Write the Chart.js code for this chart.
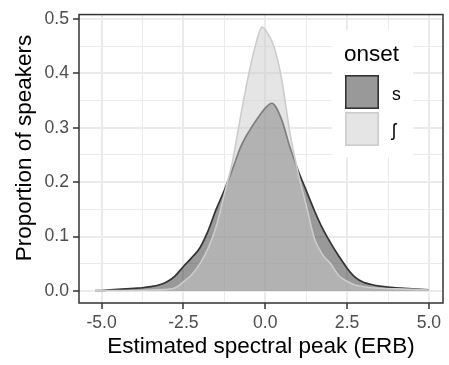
<!DOCTYPE html>
<html>
<head>
<meta charset="utf-8">
<script src="https://cdn.jsdelivr.net/npm/chart.js@4.4.0/dist/chart.umd.min.js"></script>
<style>
  html, body { margin: 0; padding: 0; background: #fff; }
  canvas { display: block; }
</style>
</head>
<body>
<canvas id="grafico" width="449" height="365"></canvas>
<script>
// densidades
const xS = [-5.2, -5.0, -4.75, -4.5, -4.25, -4.0, -3.75, -3.5, -3.25, -3.0, -2.75, -2.5, -2.25, -2.0, -1.75, -1.5, -1.25, -1.0, -0.75, -0.5, -0.25, 0.0, 0.2, 0.5, 0.75, 1.0, 1.25, 1.5, 1.75, 2.0, 2.25, 2.5, 2.75, 3.0, 3.25, 3.5, 3.75, 4.0, 4.5, 5.0];
const densS = [0.001, 0.001, 0.002, 0.003, 0.004, 0.005, 0.006, 0.008, 0.011, 0.017, 0.028, 0.045, 0.061, 0.079, 0.110, 0.150, 0.185, 0.224, 0.265, 0.293, 0.316, 0.336, 0.345, 0.315, 0.265, 0.222, 0.185, 0.148, 0.115, 0.088, 0.064, 0.042, 0.025, 0.016, 0.012, 0.009, 0.007, 0.006, 0.004, 0.002];

const xSh = [-5.2, -5.0, -4.5, -4.0, -3.5, -3.0, -2.75, -2.5, -2.25, -2.0, -1.75, -1.5, -1.25, -1.0, -0.75, -0.5, -0.25, -0.1, 0.0, 0.25, 0.5, 0.75, 1.0, 1.25, 1.5, 1.75, 2.0, 2.25, 2.5, 2.75, 3.0, 3.5, 4.0, 4.5, 5.0];
const densSh = [0.001, 0.001, 0.001, 0.001, 0.002, 0.003, 0.006, 0.017, 0.030, 0.050, 0.078, 0.118, 0.178, 0.238, 0.322, 0.400, 0.462, 0.485, 0.480, 0.452, 0.390, 0.292, 0.218, 0.158, 0.097, 0.067, 0.050, 0.028, 0.018, 0.011, 0.008, 0.005, 0.004, 0.003, 0.002];

const onsetLabels = ['s', 'ʃ'];

const xMajor = [-5, -2.5, 0, 2.5, 5];
const xMinor = [-3.75, -1.25, 1.25, 3.75];
const yMajor = [0, 0.1, 0.2, 0.3, 0.4, 0.5];
const yMinor = [0.05, 0.15, 0.25, 0.35, 0.45];

const fonte = '"Liberation Sans", Arial, sans-serif';
Chart.defaults.font.family = fonte;

const toPoints = (xs, ys) => xs.map((x, i) => ({ x: x, y: ys[i] }));
const isMajor = (lista, v) => lista.some(m => Math.abs(m - v) < 1e-9);
const buildTicks = (maj, min) => [...maj, ...min].sort((a, b) => a - b).map(v => ({ value: v }));

const gridOpts = (maj) => ({
  color: '#ebebeb',
  lineWidth: ctx => (ctx.tick && isMajor(maj, ctx.tick.value)) ? 2 : 1,
  drawTicks: true,
  tickLength: 6,
  tickWidth: 1.5,
  tickColor: ctx => (ctx.tick && isMajor(maj, ctx.tick.value)) ? '#333333' : 'rgba(0,0,0,0)'
});

// moldura do painel, título do eixo y e legenda
const painelPlugin = {
  id: 'painel',
  afterDraw(chart) {
    const { ctx, chartArea: a } = chart;
    ctx.save();
    ctx.strokeStyle = '#333333';
    ctx.lineWidth = 1.5;
    ctx.strokeRect(a.left, a.top, a.right - a.left, a.bottom - a.top);

    // título do eixo y
    ctx.save();
    ctx.translate(31, 148);
    ctx.rotate(-Math.PI / 2);
    ctx.fillStyle = '#000000';
    ctx.font = '22.5px ' + fonte;
    ctx.textAlign = 'center';
    ctx.textBaseline = 'alphabetic';
    ctx.fillText('Proportion of speakers', 0, 0);
    ctx.restore();

    ctx.fillStyle = '#ffffff';
    ctx.fillRect(332, 30, 81, 127);

    ctx.fillStyle = '#000000';
    ctx.font = '22.5px ' + fonte;
    ctx.textBaseline = 'alphabetic';
    ctx.textAlign = 'left';
    ctx.fillText('onset', 344, 61);

    const chaves = [
      { y: 75, fill: 'rgba(51,51,51,0.5)', stroke: '#333333', label: onsetLabels[0], base: 100 },
      { y: 112, fill: 'rgba(204,204,204,0.5)', stroke: '#cccccc', label: onsetLabels[1], base: 136 }
    ];
    ctx.font = '17.6px ' + fonte;
    chaves.forEach(k => {
      ctx.fillStyle = k.fill;
      ctx.fillRect(345, k.y, 34, 34);
      ctx.strokeStyle = k.stroke;
      ctx.lineWidth = 1.6;
      ctx.strokeRect(345.8, k.y + 0.8, 32.4, 32.4);
      ctx.fillStyle = '#000000';
      ctx.fillText(k.label, 392, k.base);
    });
    ctx.restore();
  }
};

new Chart(document.getElementById('grafico'), {
  type: 'line',
  data: {
    datasets: [
      {
        label: onsetLabels[1],
        data: toPoints(xSh, densSh),
        borderColor: '#cccccc',
        backgroundColor: 'rgba(204,204,204,0.5)',
        borderWidth: 1.6,
        fill: 'origin',
        pointRadius: 0,
        cubicInterpolationMode: 'monotone',
        order: 0
      },
      {
        label: onsetLabels[0],
        data: toPoints(xS, densS),
        borderColor: '#333333',
        backgroundColor: 'rgba(51,51,51,0.5)',
        borderWidth: 1.7,
        fill: 'origin',
        pointRadius: 0,
        cubicInterpolationMode: 'monotone',
        order: 1
      }
    ]
  },
  options: {
    responsive: false,
    animation: false,
    layout: { padding: { top: 5, right: 6, left: 0, bottom: 0 } },
    plugins: {
      legend: { display: false },
      tooltip: { enabled: false }
    },
    scales: {
      x: {
        type: 'linear',
        min: -5.69,
        max: 5.43,
        afterBuildTicks: s => { s.ticks = buildTicks(xMajor, xMinor); },
        afterFit: s => { s.height = 62; },
        grid: gridOpts(xMajor),
        border: { display: false },
        ticks: {
          color: '#4d4d4d',
          font: { size: 17.6 },
          padding: 4,
          maxRotation: 0,
          autoSkip: false,
          callback: v => isMajor(xMajor, v) ? v.toFixed(1) : ''
        },
        title: {
          display: true,
          text: 'Estimated spectral peak (ERB)',
          color: '#000000',
          font: { size: 22.5 },
          padding: { top: 0, bottom: 4.5 }
        }
      },
      y: {
        type: 'linear',
        min: -0.022,
        max: 0.508,
        afterBuildTicks: s => { s.ticks = buildTicks(yMajor, yMinor); },
        afterFit: s => { s.width = 79; },
        grid: gridOpts(yMajor),
        border: { display: false },
        ticks: {
          color: '#4d4d4d',
          font: { size: 17.6 },
          padding: 4,
          autoSkip: false,
          callback: v => isMajor(yMajor, v) ? v.toFixed(1) : ''
        }
      }
    }
  },
  plugins: [painelPlugin]
});
</script>
</body>
</html>
